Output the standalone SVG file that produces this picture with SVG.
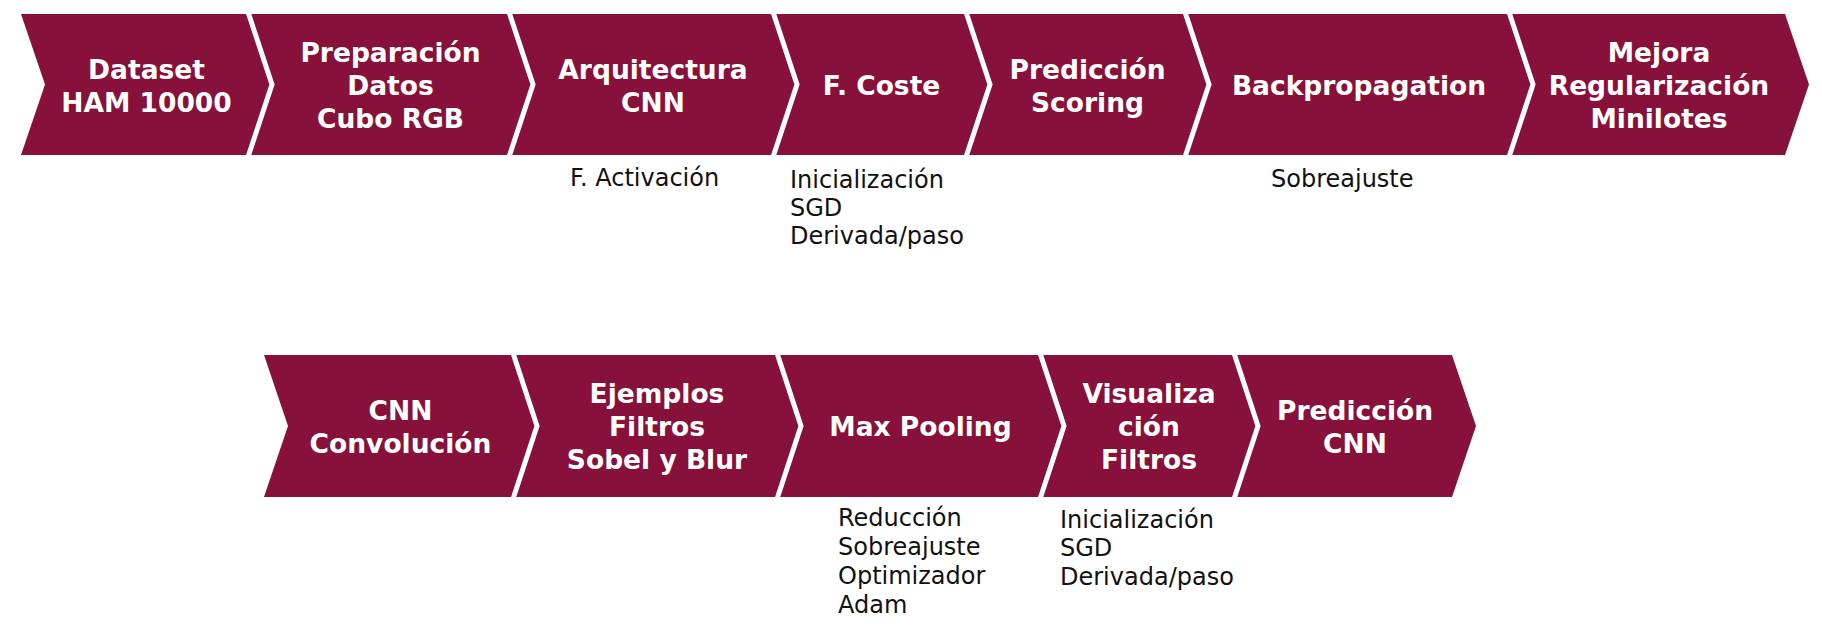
<svg xmlns="http://www.w3.org/2000/svg" width="1822" height="628" viewBox="0 0 1822 628">
<style>
.shape{fill:#87113A;}
.sep{fill:none;stroke:#FFFFFF;stroke-width:5;stroke-linejoin:miter;}
.t{font-family:"DejaVu Sans",sans-serif;font-weight:bold;font-size:26.5px;fill:#FFFFFF;text-anchor:middle;}
.s{font-family:"DejaVu Sans",sans-serif;font-size:24px;fill:#111111;}
</style>
<rect width="1822" height="628" fill="#FFFFFF"/>
<g id="connectors"></g>
<g id="n1"><polygon class="shape" points="21,14 248,14 272,84.5 248,155 21,155 45,84.5"/><text class="t" x="146.5" y="78.5">Dataset</text><text class="t" x="146.5" y="111.5">HAM 10000</text></g>
<g id="n2"><polygon class="shape" points="248,14 509,14 533,84.5 509,155 248,155 272,84.5"/><polyline class="sep" points="248,12 272,84.5 248,157"/><text class="t" x="390.5" y="62">Preparación</text><text class="t" x="390.5" y="95">Datos</text><text class="t" x="390.5" y="128">Cubo RGB</text></g>
<g id="n3"><polygon class="shape" points="509,14 773,14 797,84.5 773,155 509,155 533,84.5"/><polyline class="sep" points="509,12 533,84.5 509,157"/><text class="t" x="653" y="78.5">Arquitectura</text><text class="t" x="653" y="111.5">CNN</text><text class="s" x="570" y="186">F. Activación</text></g>
<g id="n4"><polygon class="shape" points="773,14 966,14 990,84.5 966,155 773,155 797,84.5"/><polyline class="sep" points="773,12 797,84.5 773,157"/><text class="t" x="881.5" y="95">F. Coste</text><text class="s" x="790" y="188">Inicialización</text><text class="s" x="790" y="216">SGD</text><text class="s" x="790" y="244">Derivada/paso</text></g>
<g id="n5"><polygon class="shape" points="966,14 1185,14 1209,84.5 1185,155 966,155 990,84.5"/><polyline class="sep" points="966,12 990,84.5 966,157"/><text class="t" x="1087.5" y="78.5">Predicción</text><text class="t" x="1087.5" y="111.5">Scoring</text></g>
<g id="n6"><polygon class="shape" points="1185,14 1509,14 1533,84.5 1509,155 1185,155 1209,84.5"/><polyline class="sep" points="1185,12 1209,84.5 1185,157"/><text class="t" x="1359" y="95">Backpropagation</text><text class="s" x="1271" y="187">Sobreajuste</text></g>
<g id="n7"><polygon class="shape" points="1509,14 1785,14 1809,84.5 1785,155 1509,155 1533,84.5"/><polyline class="sep" points="1509,12 1533,84.5 1509,157"/><text class="t" x="1659" y="62">Mejora</text><text class="t" x="1659" y="95">Regularización</text><text class="t" x="1659" y="128">Minilotes</text></g>
<g id="n8"><polygon class="shape" points="264,355 513,355 537,426 513,497 264,497 288,426"/><text class="t" x="400.5" y="419.5">CNN</text><text class="t" x="400.5" y="452.5">Convolución</text></g>
<g id="n9"><polygon class="shape" points="513,355 777,355 801,426 777,497 513,497 537,426"/><polyline class="sep" points="513,353 537,426 513,499"/><text class="t" x="657" y="403">Ejemplos</text><text class="t" x="657" y="436">Filtros</text><text class="t" x="657" y="469">Sobel y Blur</text></g>
<g id="n10"><polygon class="shape" points="777,355 1040,355 1064,426 1040,497 777,497 801,426"/><polyline class="sep" points="777,353 801,426 777,499"/><text class="t" x="920.5" y="436">Max Pooling</text><text class="s" x="838" y="526">Reducción</text><text class="s" x="838" y="555">Sobreajuste</text><text class="s" x="838" y="584">Optimizador</text><text class="s" x="838" y="613">Adam</text></g>
<g id="n11"><polygon class="shape" points="1040,355 1234,355 1258,426 1234,497 1040,497 1064,426"/><polyline class="sep" points="1040,353 1064,426 1040,499"/><text class="t" x="1149" y="403">Visualiza</text><text class="t" x="1149" y="436">ción</text><text class="t" x="1149" y="469">Filtros</text><text class="s" x="1060" y="528">Inicialización</text><text class="s" x="1060" y="556">SGD</text><text class="s" x="1060" y="585">Derivada/paso</text></g>
<g id="n12"><polygon class="shape" points="1234,355 1452,355 1476,426 1452,497 1234,497 1258,426"/><polyline class="sep" points="1234,353 1258,426 1234,499"/><text class="t" x="1355" y="419.5">Predicción</text><text class="t" x="1355" y="452.5">CNN</text></g>
</svg>
